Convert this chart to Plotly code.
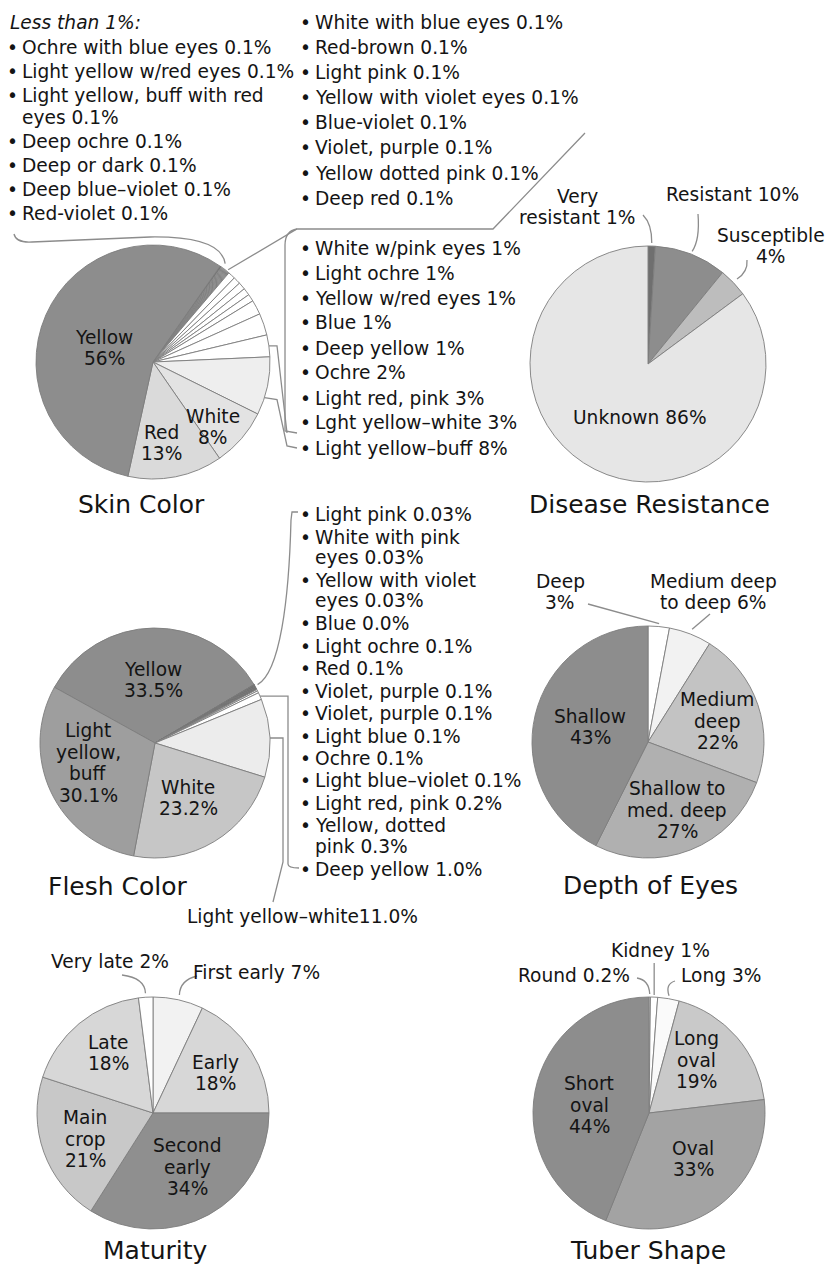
import math
import plotly.graph_objects as go

W, H = 826, 1268
FONT = "DejaVu Sans"
INK = "#141414"
EDGE = "#7d7d7d"
LEAD = "#8c8c8c"
TXT = 18.6
TITLE = 25
LS = 21.5

# ---------------- data ----------------
skin_names = [
    "Ochre with blue eyes", "Light yellow w/red eyes", "Light yellow, buff with red eyes",
    "Deep ochre", "Deep or dark", "Deep blue\u2013violet", "Red-violet",
    "White with blue eyes", "Red-brown", "Light pink", "Yellow with violet eyes",
    "Blue-violet", "Violet, purple", "Yellow dotted pink", "Deep red",
    "White w/pink eyes", "Light ochre", "Yellow w/red eyes", "Blue", "Deep yellow",
    "Ochre", "Light red, pink", "Lght yellow\u2013white", "Light yellow\u2013buff",
    "White", "Red", "Yellow",
]
skin_values = [0.1, 0.1, 0.1, 0.1, 0.1, 0.1, 0.1,
               0.1, 0.1, 0.1, 0.1, 0.1, 0.1, 0.1, 0.1,
               1, 1, 1, 1, 1, 2, 3, 3, 8, 8, 13, 56]

disease_names = ["Very resistant", "Resistant", "Susceptible", "Unknown"]
disease_values = [1, 10, 4, 86]

flesh_names = [
    "Yellow", "Light pink", "White with pink eyes", "Yellow with violet eyes", "Blue",
    "Light ochre", "Red", "Violet, purple", "Violet, purple", "Light blue", "Ochre",
    "Light blue\u2013violet", "Light red, pink", "Yellow, dotted pink", "Deep yellow",
    "Light yellow\u2013white", "White", "Light yellow, buff",
]
flesh_values = [33.5, 0.03, 0.03, 0.03, 0.0, 0.1, 0.1, 0.1, 0.1, 0.1, 0.1,
                0.1, 0.2, 0.3, 1.0, 11.0, 23.2, 30.1]

eyes_names = ["Deep", "Medium deep to deep", "Medium deep", "Shallow to med. deep", "Shallow"]
eyes_values = [3, 6, 22, 27, 43]

maturity_names = ["First early", "Early", "Second early", "Main crop", "Late", "Very late"]
maturity_values = [7, 18, 34, 21, 18, 2]

tuber_names = ["Round", "Kidney", "Long", "Long oval", "Oval", "Short oval"]
tuber_values = [0.2, 1, 3, 19, 33, 44]

# ---------------- styling ----------------
skin_colors = ["#1e1e1e", "#1e1e1e"] + ["#ffffff"] * 13 + ["#ffffff"] * 8 + ["#eeeeee", "#e3e3e3", "#dadada", "#8d8d8d"]
disease_colors = ["#6f6f6f", "#8d8d8d", "#bdbdbd", "#e6e6e6"]
flesh_colors = (["#8d8d8d"] + ["#1e1e1e"] * 11 + ["#ffffff"] * 3
                + ["#ececec", "#c6c6c6", "#9e9e9e"])
eyes_colors = ["#ffffff", "#f2f2f2", "#c3c3c3", "#b0b0b0", "#8d8d8d"]
maturity_colors = ["#f2f2f2", "#d7d7d7", "#8f8f8f", "#c8c8c8", "#d7d7d7", "#ffffff"]
tuber_colors = ["#ffffff", "#ffffff", "#fafafa", "#c9c9c9", "#a3a3a3", "#8d8d8d"]

# centre x, centre y, radius (px), rotation of first slice (deg clockwise from 12)
GEOM = {
    "skin": (153, 362, 117, 35),
    "disease": (648, 364, 118, 0),
    "flesh": (155, 743, 115, -61),
    "eyes": (648, 742, 116, 0),
    "maturity": (153, 1113, 116, 0),
    "tuber": (649, 1113, 116, 0),
}
SERIES = {
    "skin": (skin_names, skin_values, skin_colors),
    "disease": (disease_names, disease_values, disease_colors),
    "flesh": (flesh_names, flesh_values, flesh_colors),
    "eyes": (eyes_names, eyes_values, eyes_colors),
    "maturity": (maturity_names, maturity_values, maturity_colors),
    "tuber": (tuber_names, tuber_values, tuber_colors),
}


def fx(x):
    return x / W


def fy(y):
    return 1 - y / H


def fmt(v, one_decimal=False):
    if one_decimal:
        return f"{v:.2f}" if 0 < v < 0.05 else f"{v:.1f}"
    return f"{v:g}"


def edge_pt(key, i, frac=0.5, dr=0.0):
    cx, cy, r, rot = GEOM[key]
    vals = SERIES[key][1]
    cum = sum(vals[:i]) + frac * vals[i]
    a = math.radians(rot + 360.0 * cum / sum(vals))
    return (cx + (r + dr) * math.sin(a), cy - (r + dr) * math.cos(a))


annotations = []
shapes = []


def put(x, y, s, size=TXT, anchor="center", italic=False):
    if italic:
        s = f"<i>{s}</i>"
    annotations.append(dict(
        x=fx(x), y=fy(y), xref="paper", yref="paper", text=s, showarrow=False,
        xanchor=anchor, yanchor="middle", align=anchor if anchor != "center" else "center",
        font=dict(family=FONT, size=size, color=INK),
    ))


def block(x, y, text, spacing=LS, size=TXT, anchor="center"):
    lines = text.split("\n")
    y0 = y - spacing * (len(lines) - 1) / 2
    for k, ln in enumerate(lines):
        put(x, y0 + k * spacing, ln, size=size, anchor=anchor)


def bullets(x, y, names, values, step, wrap=LS, one_decimal=False, wraps=None):
    wraps = wraps or {}
    for name, v in zip(names, values):
        text = wraps.get(name, name) + " " + fmt(v, one_decimal) + "%"
        lines = text.split("\n")
        put(x, y, "\u2022", size=TXT, anchor="center")
        for k, ln in enumerate(lines):
            put(x + 8, y + k * wrap, ln, anchor="left")
        y += step + wrap * (len(lines) - 1)


def path(*segs, color=LEAD, width=1.3):
    out = []
    for seg in segs:
        cmd, pts = seg[0], seg[1:]
        out.append(cmd + " " + " ".join(f"{fx(px):.5f},{fy(py):.5f}" for px, py in pts))
    shapes.append(dict(type="path", path=" ".join(out), xref="paper", yref="paper",
                       line=dict(color=color, width=width)))


def inner(key, i, template, x, y, spacing=LS, one_decimal=False):
    v = SERIES[key][1][i]
    block(x, y, template.format(v=fmt(v, one_decimal)), spacing=spacing)


fig = go.Figure()
for key, (names, vals, cols) in SERIES.items():
    cx, cy, r, rot = GEOM[key]
    fig.add_trace(go.Pie(
        labels=list(range(len(vals))), values=vals, text=names,
        sort=False, direction="clockwise", rotation=rot,
        marker=dict(colors=cols, line=dict(color=EDGE, width=0.9)),
        textinfo="none", hovertemplate="%{text}: %{value}%<extra></extra>",
        showlegend=False,
        domain=dict(x=[fx(cx - r), fx(cx + r)], y=[fy(cy + r), fy(cy - r)]),
    ))

# ---------------- Skin Color ----------------
put(8, 22, "Less than 1%:", anchor="left", italic=True)
bullets(12, 48, skin_names[0:7], skin_values[0:7], 24.0,
        wraps={"Light yellow, buff with red eyes": "Light yellow, buff with red\neyes"})
bullets(305, 23, skin_names[7:15], skin_values[7:15], 25)
bullets(305, 248, skin_names[15:24], skin_values[15:24], 25)
inner("skin", 26, "Yellow\n{v}%", 104, 348)
inner("skin", 25, "Red\n{v}%", 161, 443)
inner("skin", 24, "White\n{v}%", 213, 427)
put(141, 505, "Skin Color", size=TITLE)

p = edge_pt("skin", 3, 0.5, 5)
path(("M", (14, 234)), ("Q", (16, 243), (32, 242)), ("L", (150, 237)),
     ("Q", (p[0] - 4, 236), p))
p = edge_pt("skin", 11, 0.5, 2)
path(("M", p), ("L", (297, 229)), ("L", (493, 229)), ("L", (585, 133)))
path(("M", (297, 229)), ("Q", (285, 231), (285, 245)), ("L", (285, 431)), ("L", (297, 433)))
p = edge_pt("skin", 22, 0.5, 0)
path(("M", p), ("L", (277, p[1])), ("L", (287, 433)))
p = edge_pt("skin", 23, 0.7, 0)
path(("M", p), ("L", (277, p[1] + 2)), ("L", (287, 446)), ("L", (297, 448)))

# ---------------- Disease Resistance ----------------
inner("disease", 3, "Unknown {v}%", 640, 418)
v = SERIES["disease"][1]
block(577, 207, "Very\nresistant " + fmt(v[0]) + "%")
put(732, 195, "Resistant " + fmt(v[1]) + "%")
block(771, 246, "Susceptible\n" + fmt(v[2]) + "%")
put(649, 505, "Disease Resistance", size=TITLE)
p = edge_pt("disease", 0, 0.5, 3)
path(("M", (643, 215)), ("Q", (652, 224), p))
p = edge_pt("disease", 1, 0.5, 3)
path(("M", (698, 214)), ("Q", (700, 240), p))
p = edge_pt("disease", 2, 0.5, 5)
path(("M", (747, 260)), ("Q", (748, 272), p))

# ---------------- Flesh Color ----------------
bullets(305, 515, flesh_names[1:15], flesh_values[1:15], 22.5, wrap=20.5, one_decimal=True,
        wraps={"White with pink eyes": "White with pink\neyes",
               "Yellow with violet eyes": "Yellow with violet\neyes",
               "Yellow, dotted pink": "Yellow, dotted\npink"})
inner("flesh", 0, "Yellow\n{v}%", 153, 680, one_decimal=True)
inner("flesh", 17, "Light\nyellow,\nbuff\n{v}%", 88, 763, one_decimal=True)
inner("flesh", 16, "White\n{v}%", 188, 798, one_decimal=True)
put(185, 917, flesh_names[15] + fmt(flesh_values[15], True) + "%", anchor="left")
put(118, 886, "Flesh Color", size=TITLE)
p = edge_pt("flesh", 6, 0.5, 3)
path(("M", p), ("C", (280, 672), (289, 600), (291, 520)), ("L", (292, 512)), ("L", (298, 512)))
p = edge_pt("flesh", 14, 0.5, 0)
path(("M", p), ("L", (288, p[1])), ("L", (288, 864)), ("Q", (288, 868), (299, 868)))
p = edge_pt("flesh", 15, 0.5, 0)
path(("M", p), ("L", (283, p[1])), ("L", (283, 862)), ("L", (273, 902)))

# ---------------- Depth of Eyes ----------------
inner("eyes", 4, "Shallow\n{v}%", 590, 727)
inner("eyes", 2, "Medium\ndeep\n{v}%", 717, 721)
inner("eyes", 3, "Shallow to\nmed. deep\n{v}%", 677, 810)
v = SERIES["eyes"][1]
block(560, 592, "Deep\n" + fmt(v[0]) + "%")
block(713, 592, "Medium deep\nto deep " + fmt(v[1]) + "%")
put(650, 885, "Depth of Eyes", size=TITLE)
p = edge_pt("eyes", 0, 0.5, 3)
path(("M", (588, 604)), ("L", p))
p = edge_pt("eyes", 1, 0.5, 5)
path(("M", (710, 614)), ("L", p))

# ---------------- Maturity ----------------
inner("maturity", 4, "Late\n{v}%", 108, 1053)
inner("maturity", 1, "Early\n{v}%", 215, 1073)
inner("maturity", 3, "Main\ncrop\n{v}%", 85, 1139)
inner("maturity", 2, "Second\nearly\n{v}%", 187, 1167)
v = SERIES["maturity"][1]
put(110, 962, "Very late " + fmt(v[5]) + "%")
put(256, 972, "First early " + fmt(v[0]) + "%")
put(155, 1250, "Maturity", size=TITLE)
p = edge_pt("maturity", 5, 0.5, 4)
path(("M", (122, 975)), ("Q", (145, 978), p))
p = edge_pt("maturity", 0, 0.5, 5)
path(("M", (197, 976)), ("Q", (180, 980), p))

# ---------------- Tuber Shape ----------------
inner("tuber", 3, "Long\noval\n{v}%", 696, 1060)
inner("tuber", 5, "Short\noval\n{v}%", 589, 1105)
inner("tuber", 4, "Oval\n{v}%", 693, 1159)
v = SERIES["tuber"][1]
put(660, 950, "Kidney " + fmt(v[1]) + "%")
put(574, 975, "Round " + fmt(v[0]) + "%")
put(721, 975, "Long " + fmt(v[2]) + "%")
put(648, 1250, "Tuber Shape", size=TITLE)
p = edge_pt("tuber", 1, 0.5, 2)
path(("M", (p[0], 963)), ("L", p))
p = edge_pt("tuber", 0, 0.5, 3)
path(("M", (637, 978)), ("Q", (649, 980), p))
p = edge_pt("tuber", 2, 0.5, 3)
path(("M", (675, 981)), ("Q", (665, 984), p))

fig.update_layout(
    width=W, height=H, autosize=False,
    margin=dict(l=0, r=0, t=0, b=0),
    paper_bgcolor="white", plot_bgcolor="white",
    annotations=annotations, shapes=shapes,
    font=dict(family=FONT, color=INK),
)
fig.write_html("out.html")
